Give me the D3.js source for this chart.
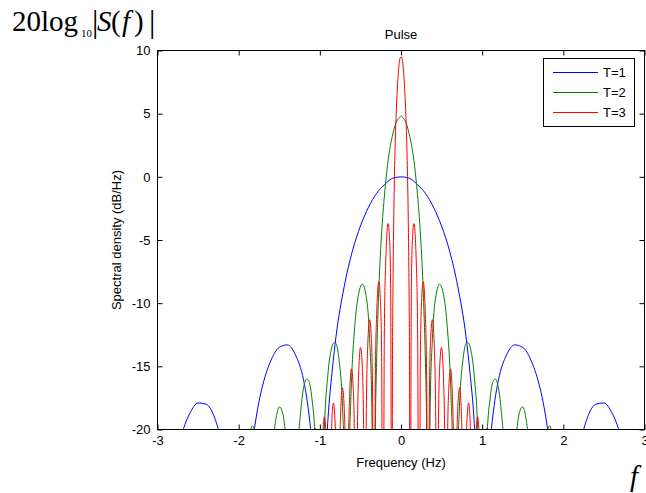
<!DOCTYPE html>
<html>
<head>
<meta charset="utf-8">
<script src="https://cdn.jsdelivr.net/npm/d3@7"></script>
<style>
  body { margin: 0; background: #fff; }
  svg text { font-family: "Liberation Sans", Arial, sans-serif; }
</style>
</head>
<body>
<script>
// values (frequency Hz, dB)
var seriesNames = ["T=1", "T=2", "T=3"];
var seriesColors = ["#0000ff", "#008000", "#ff0000"];
var xTicks = [-3, -2, -1, 0, 1, 2, 3];
var yTicks = [-20, -15, -10, -5, 0, 5, 10];

var pulseT1 = [
  [-3, -40], [-2.9, -29.4], [-2.8, -23.5], [-2.7, -20.4], [-2.65, -19.4], [-2.6, -18.7], [-2.5, -17.9],
  [-2.4, -18.0], [-2.3, -19.0], [-2.25, -20.0], [-2.2, -21.4], [-2.1, -26.6], [-2, -40],
  [-1.9, -25.7], [-1.85, -22.1], [-1.8, -19.7], [-1.75, -17.8], [-1.7, -16.4], [-1.6, -14.5], [-1.5, -13.5],
  [-1.4, -13.3], [-1.3, -14.1], [-1.2, -16.1], [-1.15, -18.0], [-1.1, -21.0], [-1.05, -26.5], [-1, -40],
  [-0.95, -25.6], [-0.9, -19.2], [-0.85, -15.5], [-0.8, -12.6], [-0.7, -8.7], [-0.6, -5.9], [-0.5, -3.9],
  [-0.4, -2.4], [-0.3, -1.3], [-0.2, -0.6], [-0.1, -0.1], [0, 0],
  [0.1, -0.1], [0.2, -0.6], [0.3, -1.3], [0.4, -2.4], [0.5, -3.9], [0.6, -5.9], [0.7, -8.7], [0.8, -12.6],
  [0.85, -15.5], [0.9, -19.2], [0.95, -25.6], [1, -40],
  [1.05, -26.5], [1.1, -21.0], [1.15, -18.0], [1.2, -16.1], [1.3, -14.1], [1.4, -13.3], [1.5, -13.5],
  [1.6, -14.5], [1.7, -16.4], [1.75, -17.8], [1.8, -19.7], [1.85, -22.1], [1.9, -25.7], [2, -40],
  [2.1, -26.6], [2.2, -21.4], [2.25, -20.0], [2.3, -19.0], [2.4, -18.0], [2.5, -17.9], [2.6, -18.7],
  [2.65, -19.4], [2.7, -20.4], [2.8, -23.5], [2.9, -29.4], [3, -40]
];

var pulseT2 = [
  [-3, -40], [-2, -40],
  [-1.9, -22.1], [-1.8667, -20.6], [-1.8333, -19.7], [-1.8, -20.2], [-1.7667, -21.5], [-1.6667, -40],
  [-1.6167, -25.7], [-1.5667, -20.5], [-1.5333, -18.9], [-1.4967, -18.2], [-1.4667, -18.5], [-1.4333, -19.7],
  [-1.3833, -24.4], [-1.3333, -40],
  [-1.2833, -23.7], [-1.2333, -18.4], [-1.2, -16.7], [-1.16, -16.0], [-1.1333, -16.2], [-1.1, -17.4],
  [-1.05, -22.0], [-1, -40],
  [-0.95, -21.1], [-0.9, -15.6], [-0.8667, -13.9], [-0.82, -13.1], [-0.8, -13.2], [-0.7667, -14.3],
  [-0.7167, -18.7], [-0.6933, -23.6], [-0.6667, -40],
  [-0.64, -22.9], [-0.6167, -17.4], [-0.5667, -11.6], [-0.5167, -9.1], [-0.4767, -8.5], [-0.4333, -9.3],
  [-0.3833, -13.3], [-0.36, -17.9], [-0.3333, -40],
  [-0.3167, -20.8], [-0.3, -14.5], [-0.2833, -10.7], [-0.2667, -7.9], [-0.2333, -3.9], [-0.2, -1.2],
  [-0.1667, 0.9], [-0.1333, 2.4], [-0.1, 3.4], [-0.0667, 4.2], [-0.0333, 4.6], [0, 4.8],
  [0.0333, 4.6], [0.0667, 4.2], [0.1, 3.4], [0.1333, 2.4], [0.1667, 0.9], [0.2, -1.2], [0.2333, -3.9],
  [0.2667, -7.9], [0.2833, -10.7], [0.3, -14.5], [0.3167, -20.8], [0.3333, -40],
  [0.36, -17.9], [0.3833, -13.3], [0.4333, -9.3], [0.4767, -8.5], [0.5167, -9.1], [0.5667, -11.6],
  [0.6167, -17.4], [0.64, -22.9], [0.6667, -40],
  [0.6933, -23.6], [0.7167, -18.7], [0.7667, -14.3], [0.8, -13.2], [0.82, -13.1], [0.8667, -13.9],
  [0.9, -15.6], [0.95, -21.1], [1, -40],
  [1.05, -22.0], [1.1, -17.4], [1.1333, -16.2], [1.16, -16.0], [1.2, -16.7], [1.2333, -18.4],
  [1.2833, -23.7], [1.3333, -40],
  [1.3833, -24.4], [1.4333, -19.7], [1.4667, -18.5], [1.4967, -18.2], [1.5333, -18.9], [1.5667, -20.5],
  [1.6167, -25.7], [1.6667, -40],
  [1.7667, -21.5], [1.8, -20.2], [1.8333, -19.7], [1.8667, -20.6], [1.9, -22.1], [2, -40], [3, -40]
];

var pulseT3 = [
  [-3, -40], [-1.1111, -40],
  [-1.0778, -22.0], [-1.0556, -19.9], [-1.0333, -21.6], [-1, -40],
  [-0.9833, -26.5], [-0.9667, -21.0], [-0.9444, -19.0], [-0.9222, -20.6], [-0.9056, -25.5], [-0.8889, -40],
  [-0.8722, -25.5], [-0.8556, -20.0], [-0.8333, -17.9], [-0.8111, -19.5], [-0.7944, -24.5], [-0.7778, -40],
  [-0.7611, -24.5], [-0.7444, -18.8], [-0.7222, -16.7], [-0.7, -18.2], [-0.6833, -23.0], [-0.6667, -40],
  [-0.65, -22.6], [-0.6333, -17.4], [-0.6111, -15.2], [-0.5889, -16.7], [-0.5722, -21.5], [-0.5556, -40],
  [-0.5389, -21.0], [-0.5222, -15.7], [-0.4989, -13.5], [-0.4778, -14.9], [-0.4611, -19.6], [-0.4444, -40],
  [-0.4278, -19.0], [-0.4111, -13.6], [-0.3867, -11.3], [-0.3667, -12.6], [-0.35, -17.2], [-0.3333, -40],
  [-0.3167, -16.4], [-0.3, -10.9], [-0.2733, -8.3], [-0.2556, -9.5], [-0.2389, -13.9], [-0.2222, -40],
  [-0.2056, -12.6], [-0.1889, -6.9], [-0.159, -3.7], [-0.1444, -4.5], [-0.1278, -8.5], [-0.1111, -40],
  [-0.1056, -16.1], [-0.1, -9.7], [-0.0944, -5.9], [-0.0889, -3.1], [-0.0778, 0.9], [-0.0667, 3.6],
  [-0.0556, 5.6], [-0.0444, 7.1], [-0.0333, 8.2], [-0.0222, 9.0], [-0.0111, 9.4], [0, 9.5],
  [0.0111, 9.4], [0.0222, 9.0], [0.0333, 8.2], [0.0444, 7.1], [0.0556, 5.6], [0.0667, 3.6], [0.0778, 0.9],
  [0.0889, -3.1], [0.0944, -5.9], [0.1, -9.7], [0.1056, -16.1], [0.1111, -40],
  [0.1278, -8.5], [0.1444, -4.5], [0.159, -3.7], [0.1889, -6.9], [0.2056, -12.6], [0.2222, -40],
  [0.2389, -13.9], [0.2556, -9.5], [0.2733, -8.3], [0.3, -10.9], [0.3167, -16.4], [0.3333, -40],
  [0.35, -17.2], [0.3667, -12.6], [0.3867, -11.3], [0.4111, -13.6], [0.4278, -19.0], [0.4444, -40],
  [0.4611, -19.6], [0.4778, -14.9], [0.4989, -13.5], [0.5222, -15.7], [0.5389, -21.0], [0.5556, -40],
  [0.5722, -21.5], [0.5889, -16.7], [0.6111, -15.2], [0.6333, -17.4], [0.65, -22.6], [0.6667, -40],
  [0.6833, -23.0], [0.7, -18.2], [0.7222, -16.7], [0.7444, -18.8], [0.7611, -24.5], [0.7778, -40],
  [0.7944, -24.5], [0.8111, -19.5], [0.8333, -17.9], [0.8556, -20.0], [0.8722, -25.5], [0.8889, -40],
  [0.9056, -25.5], [0.9222, -20.6], [0.9444, -19.0], [0.9667, -21.0], [0.9833, -26.5], [1, -40],
  [1.0333, -21.6], [1.0556, -19.9], [1.0778, -22.0], [1.1111, -40], [3, -40]
];

var width = 646,
  height = 493;

var plotLeft = 157.5, plotRight = 644.5, plotTop = 50.5, plotBottom = 429.5;

var svg = d3.select("body").append("svg")
  .attr("width", width)
  .attr("height", height);

var x = d3.scaleLinear().domain([-3, 3]).range([plotLeft, plotRight]);
var y = d3.scaleLinear().domain([-20, 10]).range([plotBottom, plotTop]);

svg.append("clipPath").attr("id", "plotclip")
  .append("rect")
  .attr("x", plotLeft).attr("y", plotTop)
  .attr("width", plotRight - plotLeft).attr("height", plotBottom - plotTop);

var line = d3.line()
  .x(function(d){ return x(d[0]); })
  .y(function(d){ return y(d[1]); })
  .curve(d3.curveMonotoneX);

var series = [pulseT1, pulseT2, pulseT3];

svg.append("g")
  .attr("clip-path", "url(#plotclip)")
  .selectAll("path")
  .data(series)
  .enter().append("path")
  .attr("d", line)
  .attr("fill", "none")
  .attr("stroke-width", 1)
  .attr("stroke", function(d, i){ return seriesColors[i]; });

// axes, ticks pointing inward like matlab
var fmt = function(d){ return String(d); };

function styleAxis(g){
  g.select(".domain").remove();
  g.selectAll(".tick line").attr("stroke", "#000");
  g.selectAll("text")
    .attr("fill", "#000")
    .style("font-size", "13px");
  g.attr("font-family", null).attr("font-size", null);
}

svg.append("g")
  .attr("transform", "translate(0," + plotBottom + ")")
  .call(d3.axisBottom(x).tickValues(xTicks).tickFormat(fmt).tickSize(-5).tickSizeOuter(0).tickPadding(6))
  .call(styleAxis);

svg.append("g")
  .attr("transform", "translate(" + plotLeft + ",0)")
  .call(d3.axisLeft(y).tickValues(yTicks).tickFormat(fmt).tickSize(-5).tickSizeOuter(0).tickPadding(7))
  .call(styleAxis);

svg.append("g")
  .attr("transform", "translate(0," + plotTop + ")")
  .call(d3.axisTop(x).tickValues(xTicks).tickSize(-5).tickSizeOuter(0).tickFormat(""))
  .call(styleAxis);

svg.append("g")
  .attr("transform", "translate(" + plotRight + ",0)")
  .call(d3.axisRight(y).tickValues(yTicks).tickSize(-5).tickSizeOuter(0).tickFormat(""))
  .call(styleAxis);

svg.append("rect")
  .attr("x", plotLeft).attr("y", plotTop)
  .attr("width", plotRight - plotLeft).attr("height", plotBottom - plotTop)
  .attr("fill", "none")
  .attr("stroke", "#000");

// titles
svg.append("text")
  .attr("x", (plotLeft + plotRight) / 2).attr("y", 39)
  .attr("text-anchor", "middle")
  .style("font-size", "13px")
  .text("Pulse");

svg.append("text")
  .attr("x", (plotLeft + plotRight) / 2).attr("y", 467)
  .attr("text-anchor", "middle")
  .style("font-size", "13px")
  .text("Frequency (Hz)");

svg.append("text")
  .attr("transform", "translate(121," + ((plotTop + plotBottom) / 2) + ") rotate(-90)")
  .attr("text-anchor", "middle")
  .style("font-size", "13px")
  .text("Spectral density (dB/Hz)");

// legend
var legend = svg.append("g");

legend.append("rect")
  .attr("x", 543.5).attr("y", 58.5)
  .attr("width", 91).attr("height", 68)
  .attr("fill", "#fff")
  .attr("stroke", "#000");

seriesNames.forEach(function(name, i){
  var ly = 72 + i * 20;
  legend.append("line")
    .attr("x1", 553).attr("x2", 598)
    .attr("y1", ly + 0.5).attr("y2", ly + 0.5)
    .attr("stroke-width", 1)
    .attr("stroke", seriesColors[i]);
  legend.append("text")
    .attr("x", 603).attr("y", ly)
    .attr("dy", "0.35em")
    .style("font-size", "13px")
    .text(name);
});

// formula annotations in serif
var serif = "'Liberation Serif', 'Times New Roman', serif";
var ann = svg.append("g");

function annText(tx, ty, size, str, italic){
  ann.append("text")
    .attr("x", tx).attr("y", ty)
    .style("font-family", serif)
    .style("font-size", size + "px")
    .style("font-style", italic ? "italic" : "normal")
    .text(str);
}

annText(12, 31, 29, "20log");
annText(81, 37, 11, "10");
annText(92, 32, 32, "|");
annText(97, 31, 29, "S", true);
annText(111, 31, 29, "(");
annText(122, 31, 29, "f", true);
annText(134, 31, 29, ")");
annText(149, 32, 32, "|");

annText(630, 486, 29, "f", true);
</script>
</body>
</html>
